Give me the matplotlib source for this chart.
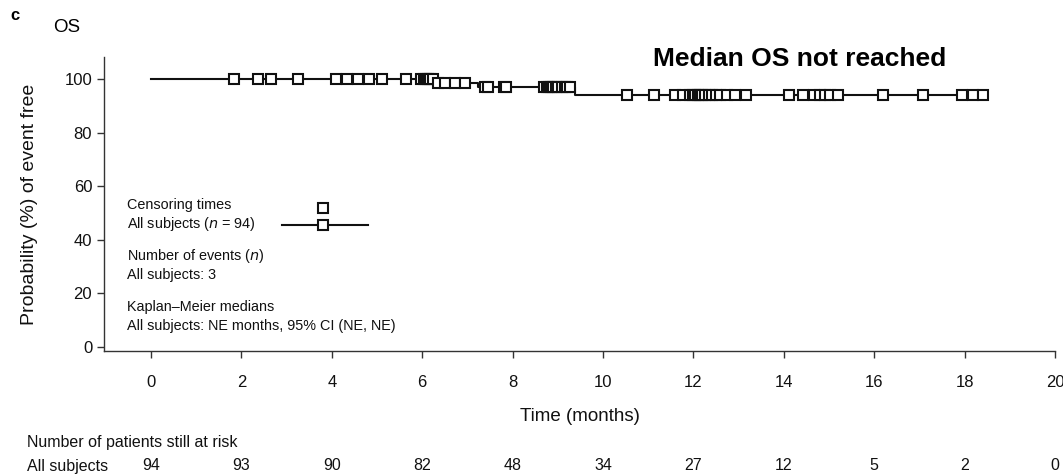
import numpy as np
import matplotlib
matplotlib.use("Agg")
import matplotlib.pyplot as plt
from matplotlib.transforms import blended_transform_factory

plt.rcParams['font.family'] = ['Liberation Sans', 'DejaVu Sans']

# ---- data ----
step_times = [0.0, 6.28, 7.23, 9.38]          # months where the KM curve steps
step_surv = [100.0, 98.6, 96.9, 94.1]         # survival (%) from each step on
curve_end = 18.45                              # last follow-up time

censor_times = [
    1.84, 2.37, 2.65, 3.25, 4.09, 4.34, 4.58, 4.82, 5.11, 5.64,
    5.98, 6.03, 6.08, 6.13, 6.18, 6.23,
    6.36, 6.5, 6.72, 6.95,
    7.38, 7.45, 7.8, 7.86,
    8.7, 8.75, 8.8, 8.85, 8.9, 8.95, 9.0, 9.1, 9.15, 9.2, 9.28,
    10.53, 11.13, 11.59, 11.77, 11.92, 12.0, 12.04, 12.1, 12.15, 12.2,
    12.26, 12.35, 12.41, 12.5, 12.59, 12.74, 12.92, 13.16,
    14.12, 14.42, 14.67, 14.8, 14.91, 15.02, 15.2,
    16.19, 17.08, 17.94, 18.19, 18.41,
]

risk_times = [0, 2, 4, 6, 8, 10, 12, 14, 16, 18, 20]
risk_counts = [94, 93, 90, 82, 48, 34, 27, 12, 5, 2, 0]

x_ticks = [0, 2, 4, 6, 8, 10, 12, 14, 16, 18, 20]
y_ticks = [0, 20, 40, 60, 80, 100]

# ---- figure ----
W, H = 1063, 474
INK = '#111111'
fig = plt.figure(figsize=(W / 100, H / 100), dpi=100)
ax = fig.add_axes([104 / W, 1 - 351 / H, (1055 - 104) / W, (351 - 57) / H])

MK = dict(ls='none', marker='s', ms=7, mfc='white', mec=INK, mew=1.5)

# KM curve
xs = list(step_times) + [curve_end]
ys = list(step_surv) + [step_surv[-1]]
ax.plot(xs, ys, drawstyle='steps-post', color=INK, lw=1.5, zorder=2)

# censoring marks placed on the curve
idx = np.searchsorted(step_times, censor_times, side='right') - 1
cens_y = np.array(step_surv)[idx]
ax.plot(censor_times, cens_y, zorder=3, **MK)

ax.set_xlim(-1.04, 20)
ax.set_ylim(-1.5, 108.2)
ax.set_xticks(x_ticks)
ax.set_yticks(y_ticks)
ax.tick_params(axis='both', labelsize=12, length=5, width=1, color='#333333',
               labelcolor=INK)
ax.tick_params(axis='x', pad=12)
for s in ['top', 'right']:
    ax.spines[s].set_visible(False)
for s in ['left', 'bottom']:
    ax.spines[s].set_color('#333333')
    ax.spines[s].set_linewidth(1.0)

ax.set_xlabel('Time (months)', fontsize=13.5, labelpad=13, color=INK)
ax.set_ylabel('Probability (%) of event free', fontsize=14, labelpad=19,
              color=INK)

# titles
fig.text(10 / W, 1 - 15 / H, 'c', fontsize=12, fontweight='bold', va='center')
fig.text(53 / W, 1 - 28 / H, 'OS', fontsize=13.5, va='center')
fig.text(800 / W, 1 - 59 / H, 'Median OS not reached', fontsize=19,
         fontweight='bold', ha='center', va='center')

# legend block
leg_fs = 10.4
lx = 127 / W
for txt, py in [('Censoring times', 205),
                ('All subjects ($\\it{n}$ = 94)', 224),
                ('Number of events ($\\it{n}$)', 256),
                ('All subjects: 3', 275),
                ('Kaplan–Meier medians', 307),
                ('All subjects: NE months, 95% CI (NE, NE)', 326)]:
    fig.text(lx, 1 - py / H, txt, fontsize=leg_fs, va='center', color=INK)
fig.add_artist(plt.Line2D([282 / W, 368 / W], [1 - 225 / H, 1 - 225 / H],
                          color=INK, lw=1.5))
fig.add_artist(plt.Line2D([323 / W], [1 - 225 / H], **MK))
fig.add_artist(plt.Line2D([323 / W], [1 - 208 / H], **MK))

# risk table
fig.text(27 / W, 1 - 443 / H, 'Number of patients still at risk', fontsize=11.5,
         va='center', color=INK)
fig.text(27 / W, 1 - 466 / H, 'All subjects', fontsize=11.5, va='center',
         color=INK)
tr = blended_transform_factory(ax.transData, fig.transFigure)
for t, n in zip(risk_times, risk_counts):
    ax.text(t, 1 - 466 / H, str(n), transform=tr, ha='center', va='center',
            fontsize=11.5, color=INK, clip_on=False)

fig.savefig('out.png', dpi=100)
